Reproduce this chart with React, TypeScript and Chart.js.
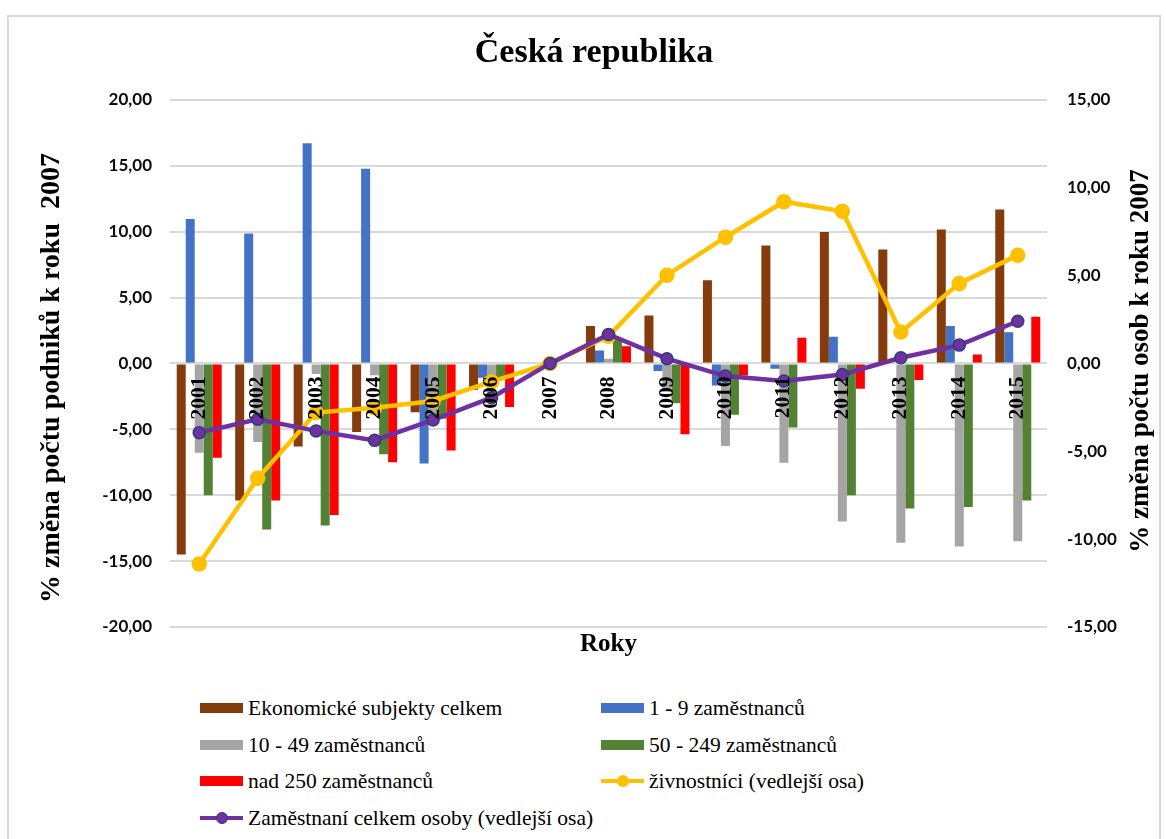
import React, { useEffect, useRef } from 'react';
import { Chart, registerables } from 'chart.js';
Chart.register(...registerables);

const years = ['2001', '2002', '2003', '2004', '2005', '2006', '2007', '2008', '2009', '2010', '2011', '2012', '2013', '2014', '2015'];
const ekonomickeSubjekty = [-14.5, -10.4, -6.3, -5.2, -3.7, -2.0, 0, 2.83, 3.64, 6.31, 8.94, 9.97, 8.64, 10.15, 11.67];
const zam1_9 = [10.96, 9.85, 16.7, 14.77, -7.6, -1.09, 0, 0.98, -0.58, -1.67, -0.4, 2.02, 0, 2.83, 2.37];
const zam10_49 = [-6.77, -5.96, -0.8, -0.9, -4.0, -1.5, 0, 0.35, -2.0, -6.26, -7.53, -12.0, -13.6, -13.9, -13.5];
const zam50_249 = [-10.0, -12.6, -12.3, -6.9, -4.2, -1.1, 0, 1.87, -3.03, -3.89, -4.87, -10.0, -11.0, -10.9, -10.4];
const zamNad250 = [-7.15, -10.4, -11.5, -7.5, -6.6, -3.3, 0, 1.31, -5.38, -0.91, 1.94, -1.92, -1.26, 0.68, 3.54];
const zivnostnici = [-11.42, -6.53, -2.8, -2.52, -2.14, -1.04, 0, 1.55, 5.02, 7.18, 9.2, 8.66, 1.78, 4.55, 6.16];
const zamestnaniCelkem = [-3.94, -3.18, -3.84, -4.38, -3.22, -1.95, 0, 1.65, 0.27, -0.72, -1.0, -0.63, 0.32, 1.04, 2.4];

const chartTitle = 'Česká republika';
const xTitle = 'Roky';
const leftTitle = '% změna počtu podniků k roku  2007';
const rightTitle = '% změna počtu osob k roku 2007';
const seriesNames = [
  'Ekonomické subjekty celkem',
  '1 - 9 zaměstnanců',
  '10 - 49 zaměstnanců',
  '50 - 249 zaměstnanců',
  'nad 250 zaměstnanců',
  'živnostníci (vedlejší osa)',
  'Zaměstnaní celkem osoby (vedlejší osa)',
];
const colors = ['#843C0C', '#4472C4', '#A5A5A5', '#548235', '#FF0000', '#FFC000', '#7030A0'];

const SERIF = "'Liberation Serif', serif";
const TICKFONT = "Lato, 'Liberation Sans', sans-serif";
const fmt = (v: number) => v.toFixed(2).replace('.', ',');

const axisTitlesPlugin = {
  id: 'axisTitles',
  afterDraw(chart: any) {
    const { ctx, chartArea } = chart;
    ctx.save();
    ctx.fillStyle = '#000';
    ctx.textAlign = 'center';
    ctx.textBaseline = 'middle';
    ctx.font = 'bold 28px ' + SERIF;
    ctx.save();
    ctx.translate(chartArea.left - 118, 363);
    ctx.rotate(-Math.PI / 2);
    ctx.fillText(leftTitle, 0, 0);
    ctx.restore();
    ctx.font = 'bold 27px ' + SERIF;
    ctx.save();
    ctx.translate(chartArea.right + 94, 346);
    ctx.rotate(-Math.PI / 2);
    ctx.fillText(rightTitle, 0, 0);
    ctx.restore();
    ctx.restore();
  },
};

function ChartCanvas() {
  const ref = useRef<HTMLCanvasElement>(null);
  useEffect(() => {
    if (!ref.current) return;
    const barSeries = [ekonomickeSubjekty, zam1_9, zam10_49, zam50_249, zamNad250];
    const datasets: any[] = barSeries.map((d, i) => ({
      type: 'bar',
      label: seriesNames[i],
      data: d,
      backgroundColor: colors[i],
      yAxisID: 'y',
      xAxisID: 'x',
      order: 3,
      categoryPercentage: 0.77,
      barPercentage: 1.0,
    }));
    datasets.push({
      type: 'line',
      label: seriesNames[5],
      data: zivnostnici,
      borderColor: colors[5],
      backgroundColor: colors[5],
      borderWidth: 4.5,
      pointRadius: 5.5,
      pointBackgroundColor: colors[5],
      pointBorderColor: colors[5],
      yAxisID: 'y1',
      xAxisID: 'x',
      order: 2,
      tension: 0,
    });
    datasets.push({
      type: 'line',
      label: seriesNames[6],
      data: zamestnaniCelkem,
      borderColor: colors[6],
      backgroundColor: colors[6],
      borderWidth: 4.5,
      pointRadius: 6,
      pointBackgroundColor: colors[6],
      pointBorderColor: '#2F3F7A',
      pointBorderWidth: 1.5,
      yAxisID: 'y1',
      xAxisID: 'x',
      order: 1,
      tension: 0,
    });

    const chart = new Chart(ref.current, {
      type: 'bar',
      data: { labels: years, datasets },
      plugins: [axisTitlesPlugin],
      options: {
        responsive: false,
        animation: false,
        devicePixelRatio: 1,
        layout: { padding: { left: 16, right: 0, top: 0, bottom: 15 } },
        plugins: {
          legend: { display: false },
          tooltip: { enabled: false },
          title: {
            display: true,
            text: chartTitle,
            color: '#000',
            font: { family: SERIF, size: 34, weight: 'bold', lineHeight: 1.2 },
            padding: { top: 18, bottom: 26 },
          },
        },
        scales: {
          x: {
            type: 'category',
            position: 'bottom',
            offset: true,
            grid: { display: false, drawTicks: false },
            border: { display: false },
            ticks: { display: false },
            title: {
              display: true,
              text: xTitle,
              color: '#000',
              font: { family: SERIF, size: 25, weight: 'bold', lineHeight: 1.2 },
              padding: { top: 3, bottom: 0 },
            },
          },
          x2: {
            type: 'category',
            position: { y: 0 },
            offset: true,
            grid: { display: false, drawTicks: false },
            border: { display: false },
            ticks: {
              z: 1,
              autoSkip: false,
              minRotation: 90,
              maxRotation: 90,
              padding: 13,
              color: '#000',
              font: { family: SERIF, size: 21.5, weight: 'bold' },
            },
            afterFit: (s: any) => { s.height = 0; },
          },
          y: {
            type: 'linear',
            position: 'left',
            min: -20,
            max: 20,
            ticks: {
              stepSize: 5,
              padding: 18,
              color: '#0d0d0d',
              font: { family: TICKFONT, size: 17, weight: 'bold' },
              callback: (v: any) => fmt(Number(v)),
            },
            grid: { color: '#d9d9d9', lineWidth: 2, drawTicks: false },
            border: { display: false },
            afterFit: (s: any) => { s.width = 147; },
          },
          y1: {
            type: 'linear',
            position: 'right',
            min: -15,
            max: 15,
            ticks: {
              stepSize: 5,
              padding: 20,
              color: '#0d0d0d',
              font: { family: TICKFONT, size: 17, weight: 'bold' },
              callback: (v: any) => fmt(Number(v)),
            },
            grid: { display: false, drawOnChartArea: false, drawTicks: false },
            border: { display: false },
            afterFit: (s: any) => { s.width = 118; },
          },
        },
      } as any,
    });
    return () => chart.destroy();
  }, []);
  return <canvas ref={ref} width={1158} height={660} style={{ display: 'block', width: 1158, height: 660 }} />;
}

function LegendItem({ idx, x, y }: { idx: number; x: number; y: number }) {
  const isLine = idx >= 5;
  return (
    <div style={{ position: 'absolute', left: x, top: y - 14, height: 28, display: 'flex', alignItems: 'center', whiteSpace: 'nowrap' }}>
      <div style={{ position: 'relative', width: 43, height: 28, marginRight: 5, flex: 'none' }}>
        {isLine ? (
          <>
            <div style={{ position: 'absolute', left: 0, top: 12, width: 43, height: 4, background: colors[idx] }} />
            <div style={{ position: 'absolute', left: 15.5, top: 8, width: 12, height: 12, borderRadius: '50%', boxSizing: 'border-box', background: colors[idx], border: idx === 6 ? '1.5px solid #2F3F7A' : 'none' }} />
          </>
        ) : (
          <div style={{ position: 'absolute', left: 0, top: 9, width: 43, height: 10, background: colors[idx] }} />
        )}
      </div>
      <span style={{ fontFamily: SERIF, fontSize: 21.5, color: '#000', lineHeight: '28px' }}>{seriesNames[idx]}</span>
    </div>
  );
}

export default function App() {
  const rows = [693, 730, 766, 803];
  const col = [193, 594];
  const placements = [
    [0, col[0], rows[0]],
    [1, col[1], rows[0]],
    [2, col[0], rows[1]],
    [3, col[1], rows[1]],
    [4, col[0], rows[2]],
    [5, col[1], rows[2]],
    [6, col[0], rows[3]],
  ];
  return (
    <div style={{ position: 'absolute', left: 7, top: 15, width: 1158, height: 830, background: '#fff' }}>
      <div style={{ position: 'absolute', left: 0, top: 0, width: 1154, height: 840, border: '2px solid #d9d9d9', boxSizing: 'border-box' }} />
      <div style={{ position: 'absolute', left: 0, top: 0 }}>
        <ChartCanvas />
      </div>
      {placements.map(([i, x, y]) => (
        <LegendItem key={i} idx={i} x={x} y={y} />
      ))}
    </div>
  );
}
